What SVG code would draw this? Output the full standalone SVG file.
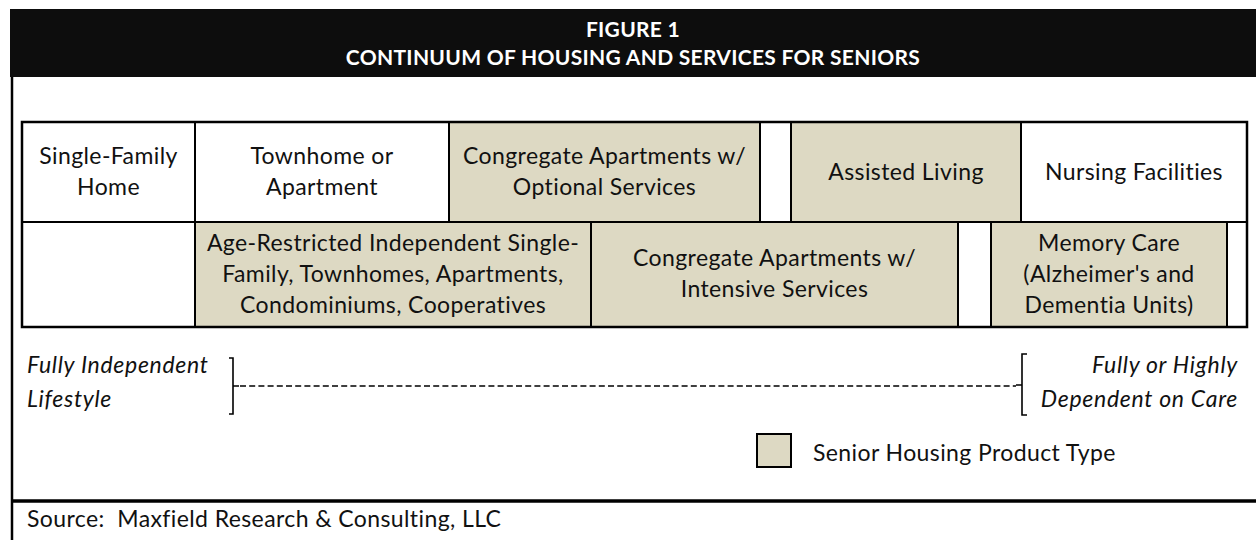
<svg xmlns="http://www.w3.org/2000/svg" width="1256" height="540" viewBox="0 0 1256 540">
<style>
  .cell { stroke: #000; stroke-width: 2; }
  .w { fill: #ffffff; }
  .t { fill: #ddd9c3; }
  .txt { font-family: Lato, "Open Sans", "Liberation Sans", sans-serif; font-size: 23px; letter-spacing: 0.4px; fill: #111; text-anchor: middle; }
  .it { font-family: Lato, "Open Sans", "Liberation Sans", sans-serif; font-size: 23px; letter-spacing: 0.7px; font-style: italic; fill: #111; }
  .plain { font-family: Lato, "Open Sans", "Liberation Sans", sans-serif; font-size: 23px; letter-spacing: 0.4px; fill: #111; }
  .title { font-family: Lato, "Liberation Sans", sans-serif; font-size: 21px; letter-spacing: 0.3px; font-weight: bold; fill: #fff; text-anchor: middle; }
  .br { fill: none; stroke: #000; stroke-width: 1.6; }
</style>
<rect width="1256" height="540" fill="#fff"/>
<g id="title">
  <rect x="10" y="9" width="1246" height="68" fill="#0d0d0d"/>
  <text class="title" x="633" y="37">FIGURE 1</text>
  <text class="title" x="633" y="65">CONTINUUM OF HOUSING AND SERVICES FOR SENIORS</text>
</g>
<g id="frame">
  <line x1="12" y1="77" x2="12" y2="540" stroke="#000" stroke-width="2.5"/>
  <line x1="11" y1="501" x2="1256" y2="501" stroke="#000" stroke-width="3.5"/>
</g>
<g id="single-family-home">
  <rect class="cell w" x="22" y="122" width="173" height="100"/>
  <text class="txt" x="108.5" y="164">Single-Family</text>
  <text class="txt" x="108.5" y="195">Home</text>
</g>
<g id="townhome">
  <rect class="cell w" x="195" y="122" width="254" height="100"/>
  <text class="txt" x="322" y="164">Townhome or</text>
  <text class="txt" x="322" y="195">Apartment</text>
</g>
<g id="congregate-optional">
  <rect class="cell t" x="449" y="122" width="311" height="100"/>
  <text class="txt" x="604.5" y="164">Congregate Apartments w/</text>
  <text class="txt" x="604.5" y="195">Optional Services</text>
</g>
<g id="gap-1">
  <rect class="cell w" x="760" y="122" width="31" height="100"/>
</g>
<g id="assisted-living">
  <rect class="cell t" x="791" y="122" width="230" height="100"/>
  <text class="txt" x="906" y="180">Assisted Living</text>
</g>
<g id="nursing-facilities">
  <rect class="cell w" x="1021" y="122" width="226" height="100"/>
  <text class="txt" x="1134" y="180">Nursing Facilities</text>
</g>
<g id="empty-row2">
  <rect class="cell w" x="22" y="222" width="173" height="105"/>
</g>
<g id="age-restricted">
  <rect class="cell t" x="195" y="222" width="396" height="105"/>
  <text class="txt" x="393" y="251">Age-Restricted Independent Single-</text>
  <text class="txt" x="393" y="282">Family, Townhomes, Apartments,</text>
  <text class="txt" x="393" y="313">Condominiums, Cooperatives</text>
</g>
<g id="congregate-intensive">
  <rect class="cell t" x="591" y="222" width="367" height="105"/>
  <text class="txt" x="774.5" y="266">Congregate Apartments w/</text>
  <text class="txt" x="774.5" y="297">Intensive Services</text>
</g>
<g id="gap-2">
  <rect class="cell w" x="958" y="222" width="33" height="105"/>
</g>
<g id="memory-care">
  <rect class="cell t" x="991" y="222" width="236" height="105"/>
  <text class="txt" x="1109" y="251">Memory Care</text>
  <text class="txt" x="1109" y="282">(Alzheimer's and</text>
  <text class="txt" x="1109" y="313">Dementia Units)</text>
</g>
<g id="gap-3">
  <rect class="cell w" x="1227" y="222" width="20" height="105"/>
</g>
<g id="table-outline">
  <rect x="22" y="122" width="1225" height="205" fill="none" stroke="#000" stroke-width="2.5"/>
</g>
<g id="independent-label">
  <text class="it" x="27" y="373">Fully Independent</text>
  <text class="it" x="27" y="407">Lifestyle</text>
</g>
<g id="dependent-label">
  <text class="it" x="1238" y="373" text-anchor="end">Fully or Highly</text>
  <text class="it" x="1238" y="407" text-anchor="end">Dependent on Care</text>
</g>
<g id="connectors">
  <path class="br" d="M229 358 H233 V414 H229 M233 386 H239"/>
  <line x1="240" y1="386" x2="1016" y2="386" stroke="#000" stroke-width="1.4" stroke-dasharray="6 3.2"/>
  <path class="br" d="M1027 354 H1022 V415 H1027 M1022 385 H1016"/>
</g>
<g id="legend">
  <rect x="757" y="434" width="34" height="33" fill="#ddd9c3" stroke="#000" stroke-width="2"/>
  <text class="plain" x="813" y="461">Senior Housing Product Type</text>
</g>
<g id="source">
  <text class="plain" x="27" y="527" xml:space="preserve">Source:  Maxfield Research &amp; Consulting, LLC</text>
</g>
</svg>
